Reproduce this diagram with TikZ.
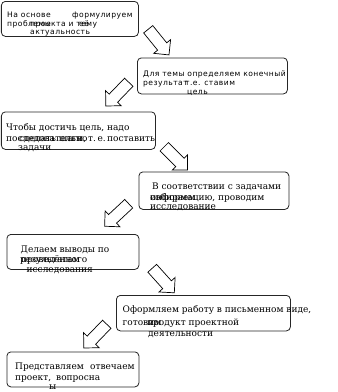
\documentclass[tikz,border=0pt]{standalone}
\usepackage{fontspec}
\usetikzlibrary{shapes.arrows}
\newfontfamily\sansf[LetterSpace=6]{DejaVu Sans}
\newfontfamily\seriff{DejaVu Serif}
\begin{document}
\begin{tikzpicture}[x=1pt,y=-1pt,
 box/.style={draw=black!85, line width=0.8pt, rounded corners=4pt, fill=white, anchor=north west, inner sep=0pt},
 st/.style={anchor=base west, inner sep=0pt, font=\sansf\fontsize{7.6}{8}\selectfont},
 rt/.style={anchor=base west, inner sep=0pt, font=\seriff\fontsize{9}{10}\selectfont},
 blockarrow/.style={single arrow, draw=black, line width=0.7pt, fill=white, minimum height=33pt,
   single arrow head extend=5pt, inner xsep=0pt, inner ysep=5.5pt, single arrow tip angle=90, anchor=tail}]
\useasboundingbox[fill=white] (0,0) rectangle (338,392);

% boxes
\node[box, minimum width=137pt, minimum height=35pt] (b1) at (1,1) {};
\node[box, minimum width=150pt, minimum height=36pt] (b2) at (137,57.5) {};
\node[box, minimum width=154pt, minimum height=37.5pt] (b3) at (1,111.5) {};
\node[box, minimum width=150pt, minimum height=37.5pt] (b4) at (138.5,171.5) {};
\node[box, minimum width=132pt, minimum height=35pt] (b5) at (6.5,234) {};
\node[box, minimum width=174pt, minimum height=35.5pt] (b6) at (116,295) {};
\node[box, minimum width=132pt, minimum height=35pt] (b7) at (6.5,351.5) {};

% block arrows
\coordinate (t1) at (148,29);
\coordinate (t2) at (129,82);
\coordinate (t3) at (164,146.5);
\coordinate (t4) at (129,203.5);
\coordinate (t5) at (152,268);
\coordinate (t6) at (107,324);
\node[blockarrow, rotate=-51] (a1) at (t1) {};
\node[blockarrow, rotate=-134] (a2) at (t2) {};
\node[blockarrow, rotate=-45] (a3) at (t3) {};
\node[blockarrow, rotate=-137] (a4) at (t4) {};
\node[blockarrow, rotate=-48] (a5) at (t5) {};
\node[blockarrow, rotate=-134] (a6) at (t6) {};

% box 1 texts
\node[st] (x11) at (7,17.5) {На основе};
\node[st] (x12) at (72,17.5) {формулируем};
\node[st] (x13) at (7,26.5) {проблемы};
\node[st] (x14) at (30,26.5) {проекта и тему};
\node[st] (x15) at (79,26.5) {её};
\node[st] (x16) at (30,34.5) {актуальность};

% box 2 texts
\node[st] (x21) at (143,76) {Для темы определяем конечный};
\node[st] (x22) at (143,85) {результат};
\node[st] (x23) at (185,85) {т.е. ставим};
\node[st] (x24) at (187,94.5) {цель};

% box 3 texts
\node[rt] (x31) at (6,130) {Чтобы достичь цель, надо};
\node[rt] (x32) at (6,141) {последовательно};
\node[rt] (x33) at (19,141) {сделать шаги,};
\node[rt] (x34) at (88,141) {т.\,е.\,поставить};
\node[rt] (x35) at (18,150) {задачи};

% box 4 texts
\node[rt] (x41) at (152,189) {В соответствии с задачами};
\node[rt] (x42) at (150,200) {информацию, проводим};
\node[rt] (x43) at (150,200) {собираем};
\node[rt] (x44) at (150,209) {исследование};

% box 5 texts
\node[rt] (x51) at (20.5,252) {Делаем выводы по};
\node[rt] (x52) at (20,262.5) {результатам};
\node[rt] (x53) at (21,262.5) {проведённого};
\node[rt] (x54) at (26.5,272) {исследования};

% box 6 texts
\node[rt] (x61) at (122.5,312) {Оформляем работу в письменном виде,};
\node[rt] (x62) at (122.5,325) {готовим};
\node[rt] (x63) at (147,325) {продукт проектной};
\node[rt] (x64) at (148,336) {деятельности};

% box 7 texts
\node[rt] (x71) at (15,369) {Представляем};
\node[rt] (x72) at (90,369) {отвечаем};
\node[rt] (x73) at (15,380) {проект,};
\node[rt] (x74) at (56,380) {вопросна};
\node[rt] (x75) at (49,389) {ы};
\end{tikzpicture}
\end{document}
